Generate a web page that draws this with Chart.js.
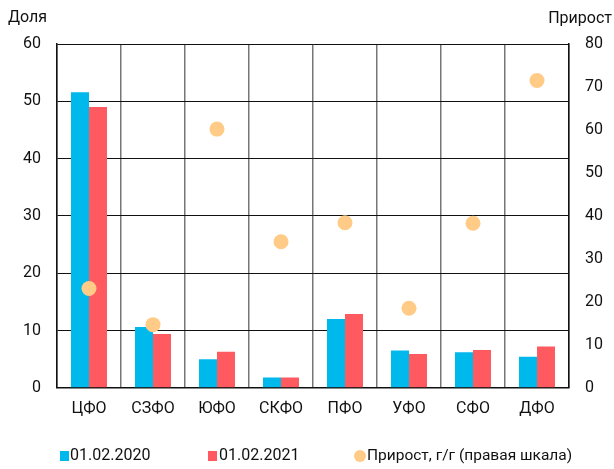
<!DOCTYPE html>
<html>
<head>
<meta charset="utf-8">
<script src="https://cdn.jsdelivr.net/npm/chart.js@4"></script>
<style>
  html, body { margin: 0; padding: 0; background: #fff; }
  #wrap { width: 614px; height: 469px; }
</style>
</head>
<body>
<div id="wrap"><canvas id="districtChart" width="614" height="469"></canvas></div>
<script>
// Districts and shares (left scale), growth y/y (right scale)
var districts = ['ЦФО', 'СЗФО', 'ЮФО', 'СКФО', 'ПФО', 'УФО', 'СФО', 'ДФО'];
var share2020 = [51.6, 10.6, 5.0, 1.8, 12.0, 6.5, 6.2, 5.4];
var share2021 = [49.0, 9.4, 6.3, 1.8, 12.9, 5.9, 6.6, 7.2];
var growth = [23.1, 14.7, 60.2, 34.0, 38.4, 18.5, 38.3, 71.5];

var leftTicks = [0, 10, 20, 30, 40, 50, 60];
var rightTicks = [0, 10, 20, 30, 40, 50, 60, 70, 80];

var FONT = 'Roboto, "Liberation Sans", sans-serif';
var BLUE = '#00B9EC';
var RED = '#FF5A5F';
var PEACH = '#FFCB87';

// axis captions above the two value scales
var axisCaptions = {
  id: 'axisCaptions',
  afterDraw(chart) {
    var ctx = chart.ctx;
    ctx.save();
    ctx.fillStyle = '#111';
    ctx.font = '16px ' + FONT;
    ctx.textBaseline = 'middle';
    ctx.textAlign = 'left';
    ctx.fillText('Доля', 8, 18);
    ctx.textAlign = 'right';
    ctx.fillText('Прирост', 612, 19);
    ctx.restore();
  }
};

// legend row under the chart
var bottomLegend = {
  id: 'bottomLegend',
  afterDraw(chart) {
    var ctx = chart.ctx;
    var ds = chart.data.datasets;
    var y = 456;
    ctx.save();
    ctx.font = '16px ' + FONT;
    ctx.textBaseline = 'middle';
    ctx.textAlign = 'left';

    ctx.fillStyle = ds[1].backgroundColor;
    ctx.fillRect(60, y - 5, 9, 10);
    ctx.fillStyle = '#111';
    ctx.fillText(ds[1].label, 70, y);

    ctx.fillStyle = ds[2].backgroundColor;
    ctx.fillRect(208, y - 5, 9, 10);
    ctx.fillStyle = '#111';
    ctx.fillText(ds[2].label, 219, y);

    ctx.fillStyle = ds[0].backgroundColor;
    ctx.beginPath();
    ctx.arc(360, y, 6, 0, Math.PI * 2);
    ctx.fill();
    ctx.fillStyle = '#111';
    ctx.font = '15.5px ' + FONT;
    ctx.fillText(ds[0].label, 367, y);
    ctx.restore();
  }
};

var chartConfig = {
  data: {
    labels: districts,
    datasets: [{
      type: 'line',
      label: 'Прирост, г/г (правая шкала)',
      data: growth,
      yAxisID: 'y1',
      showLine: false,
      pointRadius: 7.5,
      pointHoverRadius: 7.5,
      pointBorderWidth: 0,
      backgroundColor: PEACH,
      borderColor: PEACH,
      order: 0
    }, {
      type: 'bar',
      label: '01.02.2020',
      data: share2020,
      yAxisID: 'y',
      backgroundColor: BLUE,
      order: 1
    }, {
      type: 'bar',
      label: '01.02.2021',
      data: share2021,
      yAxisID: 'y',
      backgroundColor: RED,
      order: 1
    }]
  },
  options: {
    responsive: false,
    animation: false,
    layout: { padding: { left: 0, right: 0, top: 44, bottom: 38 } },
    datasets: {
      bar: { categoryPercentage: 0.5625, barPercentage: 1 }
    },
    plugins: {
      legend: { display: false },
      tooltip: { enabled: false }
    },
    scales: {
      x: {
        offset: true,
        grid: { offset: true, color: '#777', lineWidth: 1.5, drawTicks: false },
        border: { color: '#111', width: 1.5 },
        ticks: { color: '#111', font: { family: FONT, size: 16 }, padding: 12 }
      },
      y: {
        position: 'left',
        min: 0,
        max: 60,
        afterBuildTicks(scale) { scale.ticks = leftTicks.map(v => ({ value: v })); },
        afterFit(scale) { scale.width = 57; },
        grid: { color: '#111', lineWidth: 1, drawTicks: false },
        border: { color: '#111', width: 1.5 },
        ticks: { color: '#111', font: { family: FONT, size: 16 }, padding: 16 }
      },
      y1: {
        position: 'right',
        min: 0,
        max: 80,
        afterBuildTicks(scale) { scale.ticks = rightTicks.map(v => ({ value: v })); },
        afterFit(scale) { scale.width = 45; },
        grid: { display: false, drawTicks: false },
        border: { color: '#111', width: 1.5 },
        ticks: { color: '#111', font: { family: FONT, size: 16 }, padding: 16 }
      }
    }
  },
  plugins: [axisCaptions, bottomLegend]
};

var ctx = document.getElementById('districtChart').getContext('2d');
var districtChart = new Chart(ctx, chartConfig);
</script>
</body>
</html>
